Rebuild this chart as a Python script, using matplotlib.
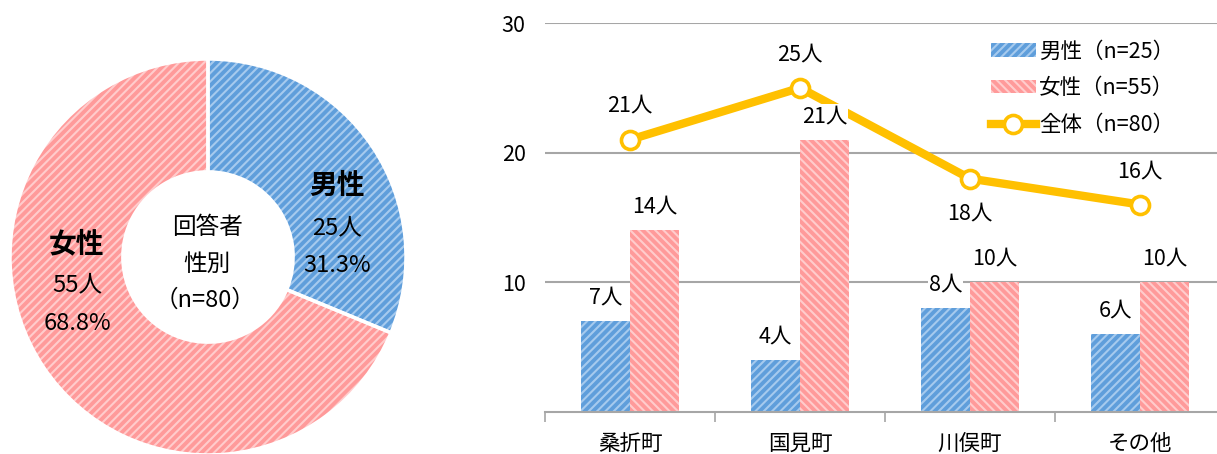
import matplotlib
matplotlib.use("Agg")
import matplotlib.pyplot as plt
import numpy as np

plt.rcParams['font.family'] = ['Noto Sans CJK JP', 'DejaVu Sans']
plt.rcParams['hatch.linewidth'] = 1.5

# ---- data ----
pie_labels = ['男性', '女性']
pie_values = [25, 55]
pie_pct = ['31.3%', '68.8%']

categories = ['桑折町', '国見町', '川俣町', 'その他']
male = [7, 4, 8, 6]
female = [14, 21, 10, 10]
total = [21, 25, 18, 16]
legend_labels = ['男性（n=25）', '女性（n=55）', '全体（n=80）']
yticks = [10, 20, 30]

blue_face = '#5f9edb'
blue_hatch = '#a6caee'
pink_face = '#ff9a9a'
pink_hatch = '#ffcccc'
gold = '#FFC000'
grid_c = '#a6a6a6'

W, H = 1217, 454
fig = plt.figure(figsize=(W / 100, H / 100), dpi=100)

# ---- donut ----
cx, cy, R = 208, 257, 198
axp = fig.add_axes([(cx - R) / W, (H - cy - R) / H, 2 * R / W, 2 * R / H])
wedges, _ = axp.pie(pie_values, startangle=90, counterclock=False, radius=1,
                    colors=[blue_face, pink_face],
                    wedgeprops=dict(width=1 - 0.43, linewidth=0))
for w, hc, in zip(wedges, [blue_hatch, pink_hatch]):
    w.set_hatch('////')
    w.set_edgecolor(hc)
    w.set_linewidth(0)
axp.pie(pie_values, startangle=90, counterclock=False, radius=1,
        colors=['none', 'none'],
        wedgeprops=dict(width=1 - 0.43, linewidth=2.5, edgecolor='white', fill=False))
axp.set_xlim(-1, 1)
axp.set_ylim(-1, 1)
axp.set_aspect('equal')
axp.axis('off')


def pc(px, py):
    return ((px - cx) / R, (cy - py) / R)


axp.text(*pc(337, 186), pie_labels[0], ha='center', va='center', fontsize=20, fontweight='bold')
axp.text(*pc(337, 228), f'{pie_values[0]}人', ha='center', va='center', fontsize=17)
axp.text(*pc(337, 265), pie_pct[0], ha='center', va='center', fontsize=17)
axp.text(*pc(77, 244), pie_labels[1], ha='center', va='center', fontsize=20, fontweight='bold')
axp.text(*pc(77, 285), f'{pie_values[1]}人', ha='center', va='center', fontsize=17)
axp.text(*pc(77, 323), pie_pct[1], ha='center', va='center', fontsize=17)
axp.text(*pc(207, 228), '回答者', ha='center', va='center', fontsize=17)
axp.text(*pc(207, 264), '性別', ha='center', va='center', fontsize=17)
axp.text(*pc(205, 300), '（n=80）', ha='center', va='center', fontsize=17)

# ---- bar + line ----
left, right, top, bottom = 545, 1225, 23, 412
ax = fig.add_axes([left / W, (H - bottom) / H, (right - left) / W, (bottom - top) / H])
x = np.arange(len(categories))
bw = 0.29
b1 = ax.bar(x - bw / 2, male, bw, color=blue_face, edgecolor=blue_hatch, linewidth=0,
            hatch='////', label=legend_labels[0], zorder=2)
b2 = ax.bar(x + bw / 2, female, bw, color=pink_face, edgecolor=pink_hatch, linewidth=0,
            hatch='\\\\\\\\', label=legend_labels[1], zorder=2)
ln, = ax.plot(x, total, color=gold, lw=6, marker='o', markersize=13,
              markerfacecolor='white', markeredgecolor=gold, markeredgewidth=2.6,
              label=legend_labels[2], zorder=4)

ax.set_xlim(-0.5, len(categories) - 0.5)
ax.set_ylim(0, 30)
ax.set_yticks(yticks)
ax.yaxis.grid(True, color=grid_c, lw=1.5, zorder=0)
ax.set_axisbelow(True)
for s in ['top', 'right', 'left']:
    ax.spines[s].set_visible(False)
ax.spines['bottom'].set_color(grid_c)
ax.spines['bottom'].set_linewidth(1.5)
ax.tick_params(axis='y', length=0, labelsize=15.5, pad=14)
ax.set_xticks(x)
ax.set_xticklabels(categories, fontsize=15.5)
ax.tick_params(axis='x', length=0, pad=15)
ax.set_xticks(np.arange(-0.5, len(categories), 1), minor=True)
ax.tick_params(axis='x', which='minor', length=7, width=1.2, color=grid_c, direction='out')

bb = dict(boxstyle='square,pad=0.05', facecolor='white', edgecolor='none')
for xi, v in zip(x - bw / 2, male):
    ax.annotate(f'{v}人', (xi, v), xytext=(0, 17), textcoords='offset points',
                ha='center', va='center', fontsize=15.5, bbox=bb, zorder=5)
for xi, v in zip(x + bw / 2, female):
    ax.annotate(f'{v}人', (xi, v), xytext=(0, 17), textcoords='offset points',
                ha='center', va='center', fontsize=15.5, bbox=bb, zorder=5)
offs = [25, 24, -25, 24]
for xi, v, o in zip(x, total, offs):
    ax.annotate(f'{v}人', (xi, v), xytext=(0, o), textcoords='offset points',
                ha='center', va='center', fontsize=15.5, zorder=5)

leg = ax.legend(handles=[b1, b2, ln], loc='upper left',
                bbox_to_anchor=((982 - left) / (right - left), (bottom - 32) / (bottom - top)),
                frameon=False, fontsize=15.5, handlelength=2.1, handleheight=0.6,
                labelspacing=0.68, handletextpad=0.15, borderaxespad=0)

fig.savefig('out.png', dpi=100)
